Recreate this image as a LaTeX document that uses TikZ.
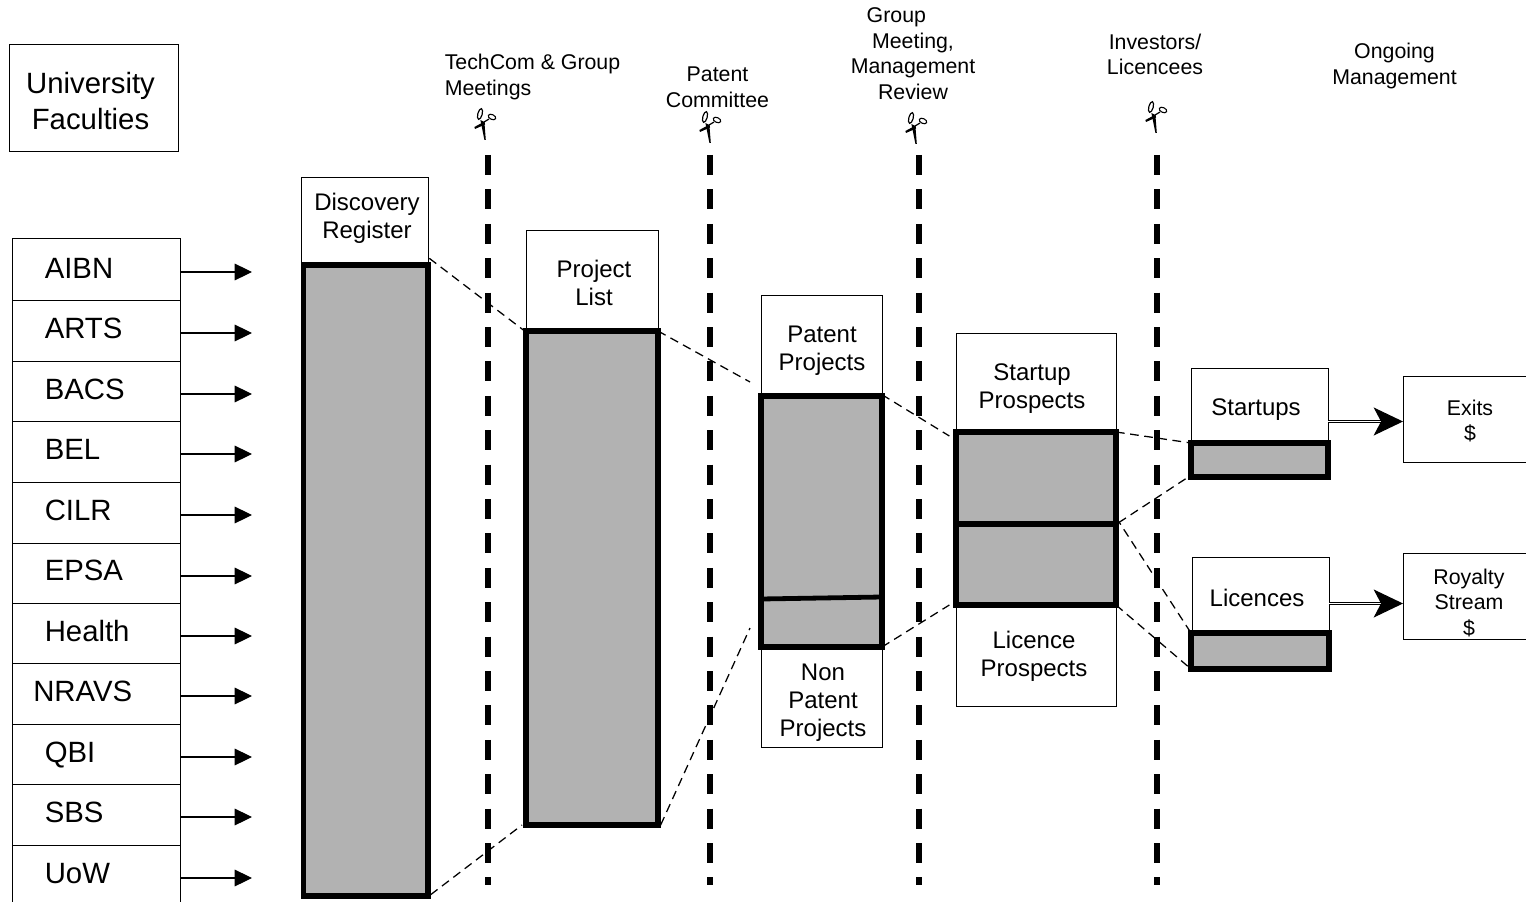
\documentclass[tikz,border=0pt]{standalone}
\usepackage{fontspec}
\setmainfont{Liberation Sans}
\usetikzlibrary{arrows.meta,calc}
\newcommand\pxbox[6][thinbox]{%
  \pgfmathsetmacro\pbw{(#5-#3)*0.75}%
  \pgfmathsetmacro\pbh{(#6-#4)*0.75}%
  \node[#1,minimum width=\pbw pt,minimum height=\pbh pt] (#2) at ({(#3+#5)/2},{(#4+#6)/2}) {};}
\tikzset{
  x=0.75pt,y=-0.75pt,
  thinbox/.style={draw=black,fill=white,line width=0.75pt,inner sep=0pt,outer sep=0pt},
  greybox/.style={draw=black,fill=barfill,line width=4pt,inner sep=0pt,outer sep=0pt},
  txtbig/.style={inner sep=0pt,align=center,font=\fontsize{22}{26.5}\selectfont},
  txtfac/.style={inner sep=0pt,anchor=base west,font=\fontsize{22}{26.5}\selectfont},
  txtmid/.style={inner sep=0pt,align=center,font=\fontsize{18}{21}\selectfont},
  txtsmall/.style={inner sep=0pt,align=center,font=\fontsize{16}{19.2}\selectfont},
  gate/.style={line width=4.6pt,dash pattern=on 15pt off 10.8pt},
  funnel/.style={line width=0.95pt,dash pattern=on 6.5pt off 4.2pt},
  feed/.style={line width=0.8pt,-{Triangle[length=13pt,width=12.5pt]}},
  outflow/.style={draw=black,double=white,double distance=1.1pt,line width=0.8pt,
    -{Stealth[length=22pt,width=21pt,inset=5.5pt]}},
  shears/.pic={
    \fill[black] (-2.6,-3) -- (1.4,-1) -- (2.8,17) -- (1.4,17) -- cycle;
    \fill[black] (1.5,-1.5) -- (2,1.5) -- (-8,6) -- (-8.6,4) -- cycle;
    \draw[black,line width=0.9pt,rotate around={-15:(-3,-9)}] (-3,-9) ellipse (2.2 and 5.5);
    \draw[black,line width=0.9pt] (1,-1) -- (6,-4);
    \draw[black,line width=0.8pt,rotate around={-25:(9,-6)}] (9,-6) ellipse (4 and 2.4);
  },
}
\definecolor{barfill}{HTML}{B2B2B2}
\begin{document}
\begin{tikzpicture}
\clip (0,0) rectangle (1526,902);
% vertical gates
\coordinate (g1a) at (488,155); \coordinate (g1b) at (488,885);
\coordinate (g2a) at (710,155); \coordinate (g2b) at (710,885);
\coordinate (g3a) at (919,155); \coordinate (g3b) at (919,885);
\coordinate (g4a) at (1157,155); \coordinate (g4b) at (1157,885);
\foreach \g in {1,2,3,4} \draw[gate] (g\g a) -- (g\g b);
\pic at (483,123) {shears};
\pic at (708,126) {shears};
\pic at (914,127) {shears};
\pic at (1154,116) {shears};
% header
\pxbox{univ}{9}{45}{178}{152}
\node[txtbig] (tuniv) at (90.5,101) {University\\Faculties};
\node[txtsmall,align=left] (ttech) at (532.5,77) {TechCom \& Group\\Meetings};
\node[txtsmall] (tpat) at (717.5,87.5) {Patent\\Committee};
\node[txtsmall] (tgrp) at (913,53.5) {Group\hspace*{25pt}\\Meeting,\\Management\\Review};
\node[txtsmall] (tinv) at (1155,54.5) {Investors/\\Licencees};
\node[txtsmall] (tong) at (1394.5,66) {Ongoing\\Management};
% faculties
\foreach \n/\t/\b/\lx/\bl/\lab in {
  aibn/239/300/44.5/278.5/AIBN, arts/300/361/44.5/338.5/ARTS, bacs/361/421/44.5/399.5/BACS, bel/421/482/44.5/459.5/BEL,
  cilr/482/543/44.5/520.5/CILR, epsa/543/603/44.5/580.5/EPSA, health/603/663/44.5/641.5/Health, nravs/663/724/33/701.5/NRAVS,
  qbi/724/784/44.5/762.5/QBI, sbs/784/845/44.5/822.5/SBS, uow/845/930/44.5/883.5/UoW}{
  \pxbox{\n}{12}{\t}{180}{\b}
  \node[txtfac] (t\n) at (\lx,\bl) {\lab};
  \pgfmathsetmacro\ay{\t+33}
  \coordinate (\n-to) at (252,\ay);
  \draw[feed] (\n-to -| \n.east) -- (\n-to);
}
% funnel stages
\pxbox{dishead}{301}{178}{428}{265}
\pxbox[greybox]{disgrey}{303.5}{265}{428}{896}
\node[txtmid] (tdis) at (367,218) {Discovery\\Register};
\pxbox{prohead}{526}{231}{658}{331}
\pxbox[greybox]{progrey}{526}{331}{658}{825}
\node[txtmid] (tpro) at (594,283) {Project\\List};
\pxbox{pathead}{761}{295}{882}{395}
\pxbox{nonhead}{761}{647}{882}{747}
\pxbox[greybox]{patgrey}{761}{396}{882}{647}
\coordinate (patL) at (761,599); \coordinate (patR) at (882,597);
\draw[line width=3.6pt] (patL) -- (patR);
\node[txtmid] (tpp) at (822,351) {Patent\\Projects};
\node[txtmid] (tnp) at (823,703) {Non\\Patent\\Projects};
\pxbox{sthead}{956}{333}{1116}{432}
\pxbox{lihead}{956}{605}{1116}{706}
\pxbox[greybox]{stgrey}{956}{432}{1116}{524}
\pxbox[greybox]{ligrey}{956}{524}{1116}{605}
\node[txtmid] (tsp) at (1032,389) {Startup\\Prospects};
\node[txtmid] (tlp) at (1034,656) {Licence\\Prospects};
\pxbox{suhead}{1191}{368}{1328}{443}
\pxbox[greybox]{sugrey}{1191}{443}{1328}{477}
\node[txtmid] (tsu) at (1256,410) {Startups};
\pxbox{lchead}{1192}{557}{1329}{633}
\pxbox[greybox]{lcgrey}{1191}{633}{1329}{669}
\node[txtmid] (tlc) at (1257,598) {Licences};
\pxbox{exits}{1403}{376}{1560}{462}
\node[txtsmall] (tex) at (1470,421) {Exits\\\$};
\pxbox{roy}{1403}{553}{1560}{639}
\node[txtsmall] (trs) at (1469,603) {Royalty\\Stream\\\$};
% outflows
\coordinate (exin) at (1403,421.5);
\coordinate (royin) at (1403,603.5);
\draw[outflow] (exin -| suhead.east) -- (exin);
\draw[outflow] (royin -| lchead.east) -- (royin);
% funnel connectors
\coordinate (f1) at (750,382); \coordinate (f2) at (750,628);
\draw[funnel] ([yshift=5pt,xshift=1pt]disgrey.north east) -- ([xshift=-1pt]progrey.north west);
\draw[funnel] ([xshift=2pt,yshift=1pt]disgrey.south east) -- ([xshift=-3pt]progrey.south west);
\draw[funnel] (progrey.north east) -- (f1);
\draw[funnel] ([xshift=2pt]progrey.south east) -- (f2);
\draw[funnel] ([yshift=1pt]patgrey.north east) -- ([xshift=-5pt,yshift=-3pt]stgrey.north west);
\draw[funnel] (patgrey.south east) -- ([xshift=-5pt]ligrey.south west);
\draw[funnel] (stgrey.north east) -- (sugrey.north west);
\draw[funnel] ([xshift=2pt,yshift=1pt]stgrey.south east) -- ([xshift=-2pt]sugrey.south west);
\draw[funnel] ([yshift=5pt]ligrey.north east) -- (lcgrey.north west);
\draw[funnel] (ligrey.south east) -- (lcgrey.south west);
\end{tikzpicture}
\end{document}
